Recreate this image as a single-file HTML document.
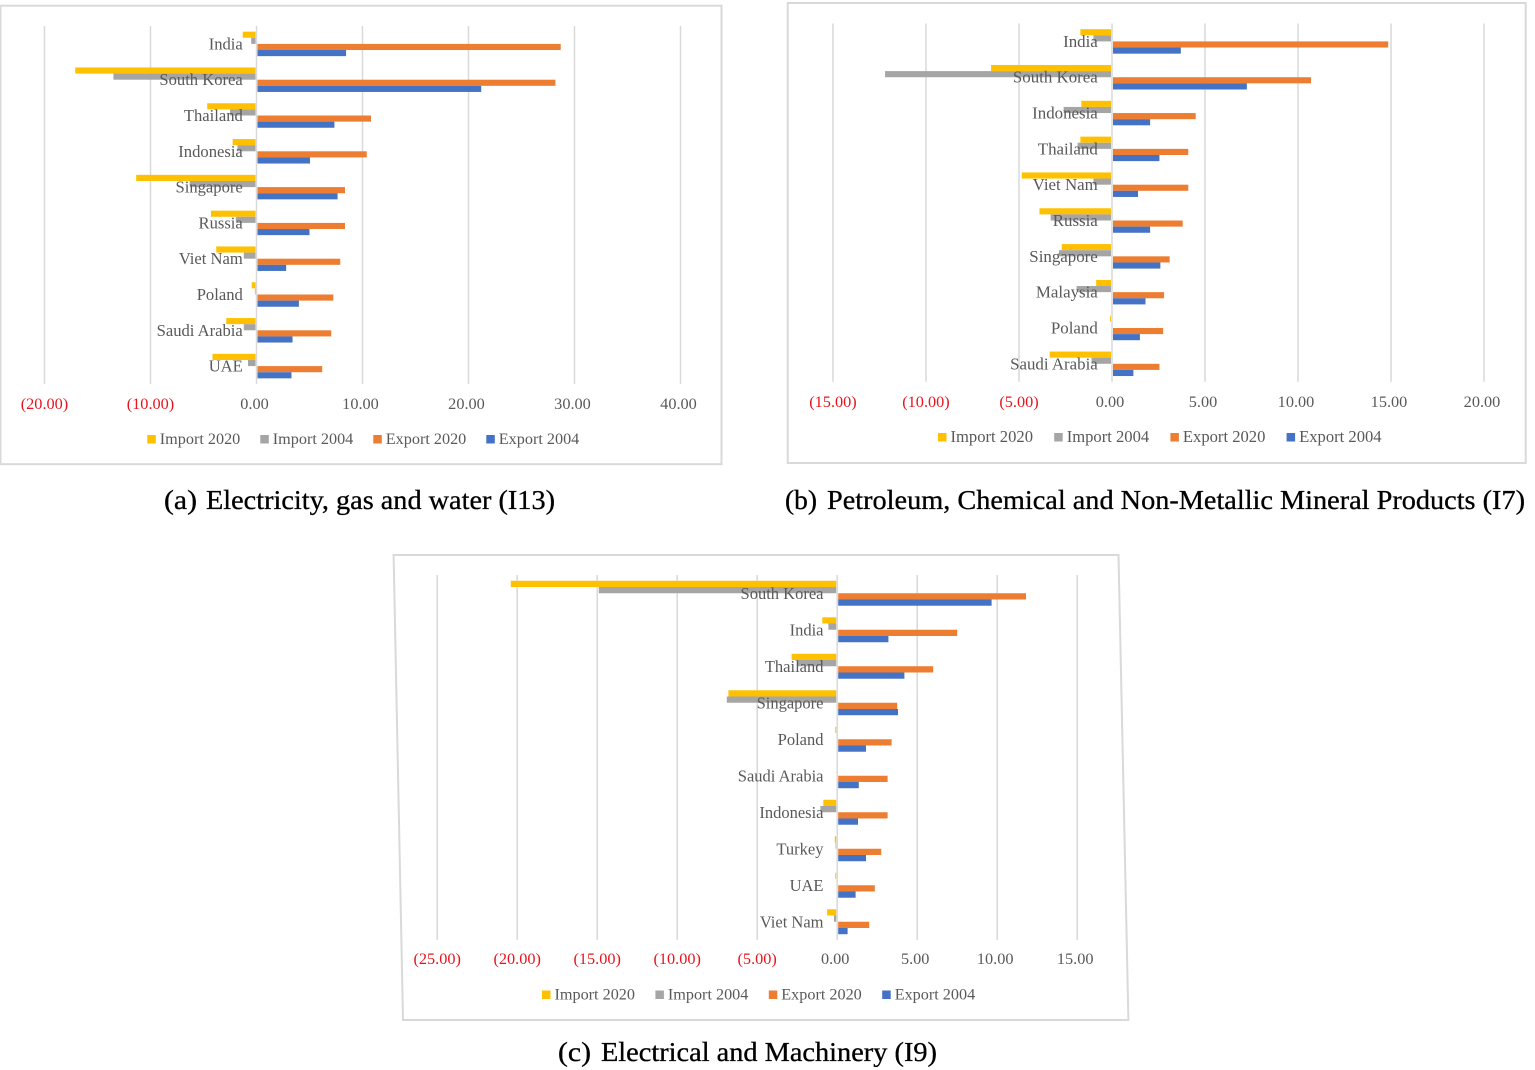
<!DOCTYPE html>
<html lang="en">
<head>
<meta charset="utf-8">
<title>Import and export charts by sector</title>
<style>
html,body{margin:0;padding:0;background:#fff;width:1535px;height:1070px;overflow:hidden}
svg{display:block;filter:blur(0.35px)}
text{font-family:"Liberation Serif",serif}
.cat{fill:#595959;text-anchor:end}
.tick{text-anchor:middle}
.leg{fill:#595959}
.cap{font-size:27px;fill:#000;stroke:#000;stroke-width:0.3px}
</style>
</head>
<body>
<svg id="figure" width="1535" height="1070" viewBox="0 0 1535 1070" xmlns="http://www.w3.org/2000/svg">
  <rect x="0.5" y="5.7" width="721" height="458.5" fill="#fff" stroke="#d9d9d9" stroke-width="2"/>
  <rect x="787.7" y="3" width="738" height="460" fill="#fff" stroke="#d9d9d9" stroke-width="2"/>
  <polygon points="393.6,555 1118.5,555 1128.4,1020 403,1020" fill="#fff" stroke="#d9d9d9" stroke-width="2"/>
  <g id="chart-a"></g>
  <g id="chart-b"></g>
  <g id="chart-c"></g>
  <text class="cap" x="164" y="509" textLength="33" lengthAdjust="spacingAndGlyphs">(a)</text>
  <text class="cap" x="206" y="509" textLength="349" lengthAdjust="spacingAndGlyphs">Electricity, gas and water (I13)</text>
  <text class="cap" x="785" y="509" textLength="32" lengthAdjust="spacingAndGlyphs">(b)</text>
  <text class="cap" x="827" y="509" textLength="698" lengthAdjust="spacingAndGlyphs">Petroleum, Chemical and Non-Metallic Mineral Products (I7)</text>
  <text class="cap" x="558" y="1061" textLength="33" lengthAdjust="spacingAndGlyphs">(c)</text>
  <text class="cap" x="601" y="1061" textLength="336" lengthAdjust="spacingAndGlyphs">Electrical and Machinery (I9)</text>
</svg>
<script>
var seriesNames = ['Import 2020', 'Import 2004', 'Export 2020', 'Export 2004'];
var seriesColors = ['#ffc000', '#a5a5a5', '#ed7d31', '#4472c4'];

var aCategories = ['India', 'South Korea', 'Thailand', 'Indonesia', 'Singapore', 'Russia', 'Viet Nam', 'Poland', 'Saudi Arabia', 'UAE'];
var aImport2020 = [-1.3, -17.1, -4.65, -2.25, -11.35, -4.3, -3.8, -0.45, -2.85, -4.15];
var aImport2004 = [-0.5, -13.5, -2.5, -1.8, -6.3, -1.95, -1.2, -0.15, -1.2, -0.8];
var aExport2020 = [28.7, 28.2, 10.8, 10.4, 8.35, 8.35, 7.9, 7.25, 7.05, 6.2];
var aExport2004 = [8.45, 21.2, 7.35, 5.05, 7.65, 5.0, 2.8, 4.0, 3.4, 3.3];
var aTicks = [-20, -10, 0, 10, 20, 30, 40];

var bCategories = ['India', 'South Korea', 'Indonesia', 'Thailand', 'Viet Nam', 'Russia', 'Singapore', 'Malaysia', 'Poland', 'Saudi Arabia'];
var bImport2020 = [-1.7, -6.5, -1.65, -1.7, -4.85, -3.9, -2.7, -0.85, -0.1, -3.35];
var bImport2004 = [-1.0, -12.2, -2.6, -1.85, -1.0, -3.3, -2.85, -1.9, -0.05, -1.1];
var bExport2020 = [14.85, 10.7, 4.5, 4.1, 4.1, 3.8, 3.1, 2.8, 2.75, 2.55];
var bExport2004 = [3.7, 7.25, 2.05, 2.55, 1.4, 2.05, 2.6, 1.8, 1.5, 1.15];
var bTicks = [-15, -10, -5, 0, 5, 10, 15, 20];

var cCategories = ['South Korea', 'India', 'Thailand', 'Singapore', 'Poland', 'Saudi Arabia', 'Indonesia', 'Turkey', 'UAE', 'Viet Nam'];
var cImport2020 = [-20.4, -0.93, -2.85, -6.8, -0.12, -0.03, -0.87, -0.15, -0.12, -0.63];
var cImport2004 = [-14.9, -0.55, -2.5, -6.9, -0.05, -0.03, -1.05, -0.1, -0.03, -0.2];
var cExport2020 = [11.8, 7.5, 6.0, 3.75, 3.4, 3.15, 3.15, 2.75, 2.35, 2.0];
var cExport2004 = [9.65, 3.2, 4.2, 3.8, 1.8, 1.35, 1.3, 1.8, 1.15, 0.65];
var cTicks = [-25, -20, -15, -10, -5, 0, 5, 10, 15];

var NS = 'http://www.w3.org/2000/svg';

function make(parent, tag, attrs) {
  var el = document.createElementNS(NS, tag);
  for (var k in attrs) { el.setAttribute(k, attrs[k]); }
  parent.appendChild(el);
  return el;
}

function slug(s) { return s.toLowerCase().replace(/\s+/g, '-'); }

function formatTick(v) {
  return v < 0 ? '(' + Math.abs(v).toFixed(2) + ')' : v.toFixed(2);
}

function drawChart(root, geo, categories, series, ticks) {
  var minV = ticks[0];
  var maxV = ticks[ticks.length - 1];
  function xScale(v) { return geo.left + (v - minV) / (maxV - minV) * (geo.right - geo.left); }
  var band = (geo.bottom - geo.top) / categories.length;
  function yBand(i) { return geo.top + band * i; }
  var barH = band * 0.171;
  var x0 = xScale(0);

  ticks.forEach(function (t) {
    var line = make(root, 'line', {x1: xScale(t), x2: xScale(t), y1: geo.top, y2: geo.bottom, stroke: '#d9d9d9', 'stroke-width': 1.5});
    
    
  });

  categories.forEach(function (cat, i) {
    var groupTop = yBand(i) + (band - barH * 4) / 2;
    series.forEach(function (vals, s) {
      var v = vals[i];
      var px = xScale(v);
      var bar = make(root, 'rect', {
        x: v < 0 ? px : x0 + 1,
        y: groupTop + barH * s,
        width: Math.max(v < 0 ? x0 - 1 - px : px - x0 - 1, 0),
        height: barH,
        fill: seriesColors[s]
      });
      
      
    });
  });

  categories.forEach(function (cat, i) {
    var label = make(root, 'text', {'class': 'cat', x: geo.labelX, y: yBand(i) + band / 2 + 5.5, style: 'font-size:' + geo.catFont + 'px'});
    label.textContent = cat;
    
    
  });

  ticks.forEach(function (t) {
    var tl = make(root, 'text', {'class': 'tick', x: xScale(t) - (t < 0 ? 0 : 2), y: geo.tickY, fill: t < 0 ? '#e8141c' : '#595959', style: 'font-size:16.3px'});
    tl.textContent = formatTick(t);
    
    
  });

  seriesNames.forEach(function (name, s) {
    var lx = geo.legendX + geo.legendStep * s;
    var swatch = make(root, 'rect', {x: lx, y: geo.legendY - 4, width: 8.5, height: 8.5, fill: seriesColors[s]});
    
    
    var lt = make(root, 'text', {'class': 'leg', x: lx + 12.5, y: geo.legendY + 5, style: 'font-size:' + geo.legFont + 'px'});
    lt.textContent = name;
    
    
  });
}

drawChart(document.getElementById('chart-a'),
  {left: 44.5, right: 680.5, top: 26, bottom: 384, labelX: 242.8, tickY: 409, legendX: 147.3, legendStep: 113, legendY: 439, catFont: 16.6, legFont: 16.2},
  aCategories, [aImport2020, aImport2004, aExport2020, aExport2004], aTicks);

drawChart(document.getElementById('chart-b'),
  {left: 833, right: 1484, top: 23.5, bottom: 381.7, labelX: 1097.8, tickY: 407, legendX: 938, legendStep: 116.2, legendY: 437, catFont: 16.9, legFont: 16.6},
  bCategories, [bImport2020, bImport2004, bExport2020, bExport2004], bTicks);

drawChart(document.getElementById('chart-c'),
  {left: 437.2, right: 1077.2, top: 575, bottom: 940, labelX: 823.5, tickY: 964, legendX: 542, legendStep: 113.4, legendY: 994.5, catFont: 16.5, legFont: 16.2},
  cCategories, [cImport2020, cImport2004, cExport2020, cExport2004], cTicks);
</script>
</body>
</html>
